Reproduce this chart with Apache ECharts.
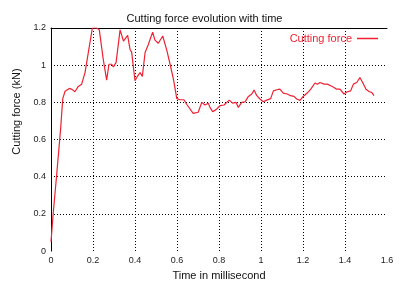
<!DOCTYPE html>
<html>
<head>
    <meta charset="utf-8">
    <title>Cutting force</title>
    <script src="https://cdn.jsdelivr.net/npm/echarts@6/dist/echarts.min.js"></script>
    <style>
        html, body { margin: 0; padding: 0; background: #fff; }
        #chart { width: 409px; height: 286px; }
    </style>
</head>
<body>
    <div id="chart"></div>
    <script>
        // time (ms) and force (kN)
        var times = [0, 0.011, 0.027, 0.046, 0.056, 0.067, 0.087, 0.1, 0.114, 0.13, 0.146, 0.162, 0.178, 0.197, 0.218, 0.23,
            0.249, 0.265, 0.276, 0.289, 0.297, 0.31, 0.329, 0.345, 0.352, 0.365, 0.376, 0.384, 0.4, 0.413, 0.424, 0.435,
            0.448, 0.463, 0.484, 0.495, 0.511, 0.532, 0.54, 0.551, 0.567, 0.583, 0.599, 0.614, 0.633, 0.646, 0.677, 0.701,
            0.718, 0.733, 0.749, 0.757, 0.77, 0.786, 0.805, 0.824, 0.837, 0.849, 0.865, 0.881, 0.892, 0.908, 0.924, 0.94,
            0.956, 0.967, 0.98, 0.995, 1.011, 1.027, 1.046, 1.059, 1.075, 1.09, 1.106, 1.125, 1.141, 1.157, 1.17, 1.186,
            1.201, 1.22, 1.237, 1.257, 1.268, 1.281, 1.3, 1.316, 1.332, 1.348, 1.36, 1.376, 1.395, 1.411, 1.427, 1.44,
            1.456, 1.471, 1.484, 1.5, 1.516, 1.527, 1.538];
        var forces = [0.05, 0.21, 0.41, 0.66, 0.82, 0.86, 0.875, 0.87, 0.857, 0.886, 0.898, 0.96, 1.07, 1.2, 1.2, 1.19,
            1.03, 0.92, 1.005, 1.005, 0.99, 1.015, 1.19, 1.13, 1.135, 1.16, 1.086, 1.07, 0.916, 0.943, 0.96, 0.94,
            1.068, 1.11, 1.178, 1.135, 1.118, 1.157, 1.15, 1.082, 1.005, 0.925, 0.82, 0.814, 0.814, 0.79, 0.741, 0.747,
            0.8, 0.786, 0.795, 0.773, 0.75, 0.761, 0.782, 0.786, 0.8, 0.812, 0.796, 0.8, 0.773, 0.8, 0.803, 0.832,
            0.845, 0.866, 0.836, 0.818, 0.803, 0.812, 0.82, 0.862, 0.868, 0.871, 0.85, 0.845, 0.836, 0.832, 0.818, 0.811,
            0.832, 0.85, 0.871, 0.904, 0.897, 0.907, 0.898, 0.898, 0.889, 0.88, 0.871, 0.871, 0.845, 0.857, 0.862, 0.898,
            0.907, 0.934, 0.907, 0.871, 0.857, 0.854, 0.836];

        var seriesName = 'Cutting force';
        var font = 'Liberation Sans, Arial, sans-serif';

        var points = [];
        for (var i = 0; i < times.length; i++) {
            points.push([times[i], forces[i]]);
        }

        var fmt = function (v) { return String(parseFloat(v.toFixed(1))); };
        var dotted = { color: '#000', type: [1, 2], width: 1 };

        var chart = echarts.init(document.getElementById('chart'));
        chart.setOption({
            animation: false,
            textStyle: { fontFamily: font },
            title: {
                text: 'Cutting force evolution with time',
                left: 'center',
                top: 8,
                textStyle: { fontSize: 11, fontWeight: 'normal', color: '#111', fontFamily: font }
            },
            legend: {
                data: [seriesName],
                right: 31,
                top: 33,
                padding: 0,
                align: 'right',
                icon: 'rect',
                itemWidth: 21,
                itemHeight: 1.5,
                itemGap: 4,
                textStyle: { fontSize: 11, color: '#ee2233', fontFamily: font, padding: [0, 0, 0, 0] }
            },
            grid: { left: 51, right: 22, top: 28, bottom: 34 },
            xAxis: [{
                type: 'value',
                min: 0,
                max: 1.6,
                interval: 0.2,
                name: 'Time in millisecond',
                nameLocation: 'middle',
                nameGap: 18,
                nameTextStyle: { fontSize: 11, color: '#111' },
                axisLine: { show: false },
                axisTick: { show: false },
                axisLabel: { fontSize: 9, color: '#222', margin: 5, formatter: fmt },
                splitLine: { show: true, showMinLine: false, showMaxLine: false, lineStyle: dotted }
            }, {
                type: 'value',
                position: 'top',
                min: 0,
                max: 1.6,
                axisLine: { show: true, lineStyle: { color: '#000', width: 1 } },
                axisTick: { show: false },
                axisLabel: { show: false },
                splitLine: { show: false }
            }],
            yAxis: {
                type: 'value',
                min: 0,
                max: 1.2,
                interval: 0.2,
                name: 'Cutting force (kN)',
                nameLocation: 'middle',
                nameGap: 25,
                nameTextStyle: { fontSize: 11, color: '#111', padding: [0, 0, 0, 56] },
                axisLine: { show: true, lineStyle: { color: '#000', width: 1 } },
                axisTick: { show: false },
                axisLabel: { fontSize: 9, color: '#222', margin: 5, formatter: fmt },
                splitLine: { show: true, showMinLine: false, lineStyle: dotted }
            },
            series: [{
                name: seriesName,
                type: 'line',
                data: points,
                showSymbol: false,
                clip: true,
                lineStyle: { color: '#ee2233', width: 1.2 },
                itemStyle: { color: '#ee2233' }
            }]
        });
    </script>
</body>
</html>
